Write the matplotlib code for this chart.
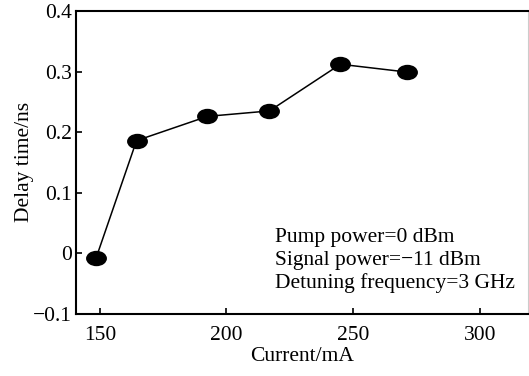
import matplotlib
matplotlib.use("Agg")
import matplotlib.pyplot as plt
from matplotlib.path import Path
from matplotlib.transforms import Affine2D

# data
current = [148.5, 164.5, 192.5, 217, 245, 271.5]
delay = [-0.008, 0.186, 0.226, 0.235, 0.312, 0.299]

x_ticks = [150, 200, 250, 300]
y_ticks = [-0.1, 0, 0.1, 0.2, 0.3, 0.4]
y_labels = ["\u22120.1", "0", "0.1", "0.2", "0.3", "0.4"]

notes = ["Pump power=0 dBm", "Signal power=\u221211 dBm", "Detuning frequency=3 GHz"]

plt.rcParams["font.family"] = ["Liberation Serif", "DejaVu Serif"]
plt.rcParams["font.size"] = 15.5

fig = plt.figure(figsize=(5.29, 3.76), dpi=100)
ax = fig.add_axes([0.1437, 0.165, 0.854, 0.806])

# flattened ellipse marker like the scanned figure
ellipse = Path.unit_circle().transformed(Affine2D().scale(1.0, 0.72))

ax.plot(current, delay, color="black", linewidth=1.1,
        marker=ellipse, markersize=14, markerfacecolor="black",
        markeredgecolor="black")

ax.set_xlim(140.6, 319)
ax.set_ylim(-0.1, 0.4)
ax.set_xticks(x_ticks)
ax.set_yticks(y_ticks)
ax.set_yticklabels(y_labels)

ax.tick_params(direction="in", length=4, width=1.2, labelsize=15.5)
ax.tick_params(axis="x", pad=9)
ax.tick_params(axis="y", pad=3)
for side in ["left", "bottom", "top"]:
    ax.spines[side].set_linewidth(1.5)
ax.spines["right"].set_linewidth(0.8)
ax.spines["right"].set_color("#cccccc")

ax.set_xlabel("Current/mA", fontsize=15.5, labelpad=1)
ax.set_ylabel("Delay time/ns", fontsize=15.5, labelpad=-1)

# annotation lines, baselines spaced like the original
for i, line in enumerate(notes):
    ax.text(0.44, 0.2376 - i * 0.0759, line, transform=ax.transAxes,
            fontsize=15.5, va="baseline", ha="left")

fig.savefig("out.png", dpi=100)
